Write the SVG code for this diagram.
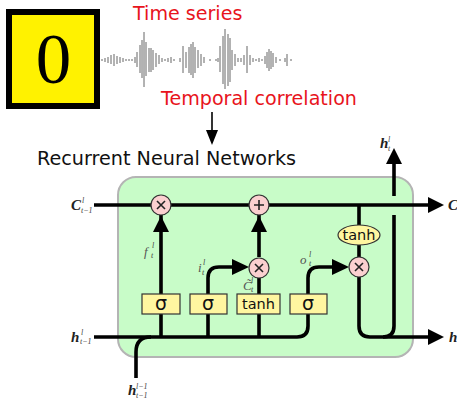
<svg xmlns="http://www.w3.org/2000/svg" width="457" height="399" viewBox="0 0 457 399">
<style>
.l{fill:none;stroke:#000;stroke-width:3.6}
.w{fill:none;stroke:#666;stroke-width:1}
.c{fill:#fbd0d0;stroke:#333;stroke-width:1.2}
.b{fill:#fff6a0;stroke:#333;stroke-width:1.2}
.x{fill:none;stroke:#222;stroke-width:1.6}
.t{font-family:"DejaVu Sans",sans-serif}
.r{font-size:19.100px;fill:#e8141c}
.m{font-family:"Liberation Serif",serif;font-style:italic}
.h{font-size:15px;font-weight:bold;fill:#222}
.s{font-size:8px;fill:#444}
.g{font-size:13px;fill:#555}
.o{font-size:19px;fill:#111;text-anchor:middle}
.n{font-size:14.500px;fill:#111;text-anchor:middle}
</style>
<rect x="0" y="0" width="457" height="399" fill="#fff"/>
<g id="digit">
<rect x="9" y="12" width="88" height="94" fill="#fff200" stroke="#000" stroke-width="6"/>
<text x="53.500" y="83" font-family="Liberation Serif,serif" font-size="71" text-anchor="middle">0</text>
</g>
<g id="waveform">
<path class="w" d="M102 59v2M105 58v4M108 57v6M111 55v9M114 54v12M117 56v8M120 57v6M123 58v4M126 59v2M129 59v2M132 59v2M135 57v6M137 52v15M140 45v28M142 40v38M144 32v55M146 42v34M149 48v24M151 48v24M153 50v20M156 53v14M159 55v9M162 58v4M165 59v2M168 58v4M171 57v6M174 59v2M180 58v4M183 46v27M186 52v16M189 47v26M191 44v31M193 42v36M195 47v26M198 50v18M201 54v12M204 57v6M210 59v2M216 59v2M218 58v4M220 46v26M223 36v48M225 29v60M228 34v52M230 38v44M232 50v20M235 54v12M238 58v4M241 58v4M244 55v10M247 46v27M250 55v10M253 58v4M256 59v2M259 58v4M262 59v2M265 56v8M267 52v16M269 49v22M271 51v18M273 53v14M276 57v6M280 59v2M285 58v4M287 54v12M291 59v2"/>
</g>
<g id="labels">
<text class="t r" x="133" y="20">Time series</text>
<text class="t r" x="161" y="105">Temporal correlation</text>
<text class="t" x="37" y="165" font-size="19.200" fill="#111">Recurrent Neural Networks</text>
</g>
<g id="cell"><rect x="118" y="177" width="295" height="180" rx="18" fill="#c8fcc8" stroke="#b4b4b4" stroke-width="2"/></g>
<g id="connectors">
<path d="M212 112v20" stroke="#000" stroke-width="1.6" fill="none"/>
<path d="M206 130h12l-6 15z"/>
<path class="l" d="M94 205H430"/>
<path class="l" d="M94 337H297Q308 337 308 326V314M308 294V278Q308 267 319 267H336"/>
<path class="l" d="M136 378V352Q136 337 151 337"/>
<path class="l" d="M161 215V294M161 314V337"/>
<path class="l" d="M208 294V278Q208 267 219 267H236M208 314V337"/>
<path class="l" d="M259 205V257M259 278V294M259 314V337"/>
<path class="l" d="M359 205V225M359 245V257M359 277V326Q359 337 370 337H430"/>
<path class="l" d="M394 215V326Q394 337 383 337M394 196V160"/>
<path d="M153 232L161 216L169 232Z"/>
<path d="M251 232L259 216L267 232Z"/>
<path d="M232 259L249 267L232 275Z"/>
<path d="M332 259L349 267L332 275Z"/>
<path d="M428 197L444 205L428 213Z"/>
<path d="M428 329L444 337L428 345Z"/>
<path d="M386 164L394 148L402 164Z"/>
</g>
<g id="mult1"><circle class="c" cx="161" cy="205" r="10"/><path class="x" d="M157 201l8 8M165 201l-8 8"/></g>
<g id="add"><circle class="c" cx="259" cy="205" r="10"/><path class="x" d="M254 205h10M259 200v10"/></g>
<g id="mult2"><circle class="c" cx="259" cy="268" r="10"/><path class="x" d="M255 264l8 8M263 264l-8 8"/></g>
<g id="mult3"><circle class="c" cx="359" cy="267" r="10"/><path class="x" d="M355 263l8 8M363 263l-8 8"/></g>
<g id="sigma1"><rect class="b" x="142" y="294" width="38" height="20"/><text class="t o" x="161" y="310">σ</text></g>
<g id="sigma2"><rect class="b" x="190" y="294" width="37" height="20"/><text class="t o" x="208" y="310">σ</text></g>
<g id="tanh1"><rect class="b" x="237" y="294" width="43" height="20"/><text class="t n" x="258.500" y="309">tanh</text></g>
<g id="sigma3"><rect class="b" x="290" y="294" width="37" height="20"/><text class="t o" x="308" y="310">σ</text></g>
<g id="tanh2"><ellipse class="b" cx="359" cy="235" rx="21" ry="10"/><text class="t n" x="359" y="240">tanh</text></g>
<g id="math">
<text class="m h" x="71" y="210">C</text><text class="m s" x="82" y="203">l</text><text class="m s" x="81" y="213">t−1</text>
<text class="m h" x="71" y="342">h</text><text class="m s" x="81" y="335">l</text><text class="m s" x="80" y="344">t−1</text>
<text class="m h" x="128" y="395">h</text><text class="m s" x="136" y="389">l−1</text><text class="m s" x="136" y="398">t−1</text>
<text class="m h" x="380" y="148">h</text><text class="m s" x="388" y="142">l</text><text class="m s" x="388" y="151">t</text>
<text class="m h" x="448" y="210">C</text>
<text class="m h" x="449" y="342">h</text>
<text class="m g" x="144" y="256">f</text><text class="m s" x="152" y="248">l</text><text class="m s" x="151" y="258">t</text>
<text class="m g" x="198" y="272">i</text><text class="m s" x="203" y="265">l</text><text class="m s" x="202" y="275">t</text>
<text class="m g" x="243" y="290">C̃</text><text class="m s" x="251" y="283">l</text><text class="m s" x="251" y="292">t</text>
<text class="m g" x="300" y="264">o</text><text class="m s" x="309" y="257">l</text><text class="m s" x="309" y="266">t</text>
</g>
</svg>
